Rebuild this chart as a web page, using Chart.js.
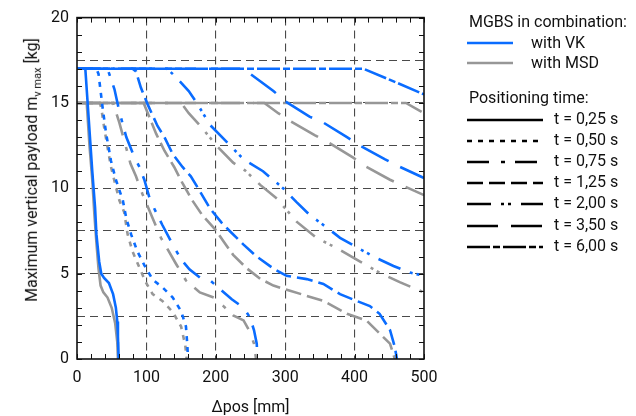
<!DOCTYPE html>
<html>
<head>
<meta charset="utf-8">
<script src="https://cdn.jsdelivr.net/npm/chart.js@4"></script>
<style>
  body { margin: 0; background: #fff; font-family: Roboto, sans-serif; color: #111; }
  #wrap { position: relative; width: 636px; height: 416px; }
  #ytitle { position: absolute; left: 33px; top: 170px; transform: translate(-50%, -50%) rotate(-90deg);
            white-space: nowrap; font-size: 16px; }
  #ytitle sub { font-size: 11px; }
  .lg { position: absolute; font-size: 16px; white-space: nowrap; line-height: 18px; }
  .lg svg { position: absolute; }
</style>
</head>
<body>
<div id="wrap">
  <canvas id="c" width="636" height="416"></canvas>
  <div id="ytitle">Maximum vertical payload m<sub>v max</sub> [kg]</div>
  <div id="legend"></div>
</div>
<script>
// Δpos [mm], payload [kg] pairs
const vk025 = [[0,17],[12,17],[17,14],[22,11],[26,8.9],[28,7.3],[32,5.7],[35,5.0],[39,4.75],[46,4.45],[52,3.8],[56,3.0],[58,2.2],[59,1.3],[60,0]];
const ms025 = [[0,15],[14,15],[18,12.5],[22,10.5],[25,8.5],[28,6.8],[31,5.3],[34,4.3],[38,3.9],[44,3.6],[50,3.0],[55,2.1],[58,1.0],[59,0]];
const vk050 = [[0,17],[28,17],[31,16.7],[37,14.7],[42,13.2],[49,11.6],[56,10.5],[66,9.3],[71,8.25],[78,7.3],[87,6.3],[97,5.5],[109,4.65],[123,4.2],[138,3.6],[150,2.8],[157,1.9],[159,0.8],[160,0]];
const ms050 = [[0,15],[33,15],[35,14.7],[39,13.6],[44,12.4],[49,11.25],[56,10.1],[61,9.3],[68,8.6],[73,7.3],[80,6.3],[90,5.35],[99,4.5],[109,3.8],[123,3.4],[138,2.75],[150,1.9],[156,0.8],[158,0]];
const vk075 = [[0,17],[44,17],[54,15.8],[61,14.5],[71,13.0],[83,11.8],[90,11.25],[97,10.5],[104,9.5],[109,9.0],[123,7.85],[138,6.7],[150,5.84],[162,5.25],[177,4.77],[192,4.6],[206,4.1],[223,3.5],[240,3.0],[249,2.45],[255,1.7],[259,0.9],[260,0]];
const ms075 = [[0,15],[52,15],[61,13.85],[68,12.8],[77,11.45],[85,10.7],[94,9.7],[109,8.25],[121,7.1],[143,5.55],[157,4.6],[163,4.4],[177,3.9],[197,3.6],[211,3.1],[225,2.55],[240,2.26],[249,1.6],[255,0.9],[258,0]];
const vk125 = [[0,17],[80,17],[85,16.85],[92,15.9],[102,14.9],[116,13.65],[126,13.0],[138,12.0],[152,11.25],[164,10.7],[176,9.9],[192,8.8],[208,8.0],[220,7.5],[240,6.7],[259,6.0],[283,5.3],[302,4.87],[331,4.68],[355,4.4],[379,3.8],[403,3.4],[422,3.1],[436,2.65],[451,1.7],[458,0.7],[461,0]];
const ms125 = [[0,15],[96,15],[102,14.4],[114,13.2],[126,12.2],[140,11.25],[152,10.3],[166,9.3],[181,8.4],[199,7.6],[211,6.9],[225,6.1],[245,5.3],[264,4.7],[283,4.3],[307,4.0],[331,3.7],[355,3.4],[389,2.65],[417,2.26],[436,1.5],[451,0.9],[458,0]];
const vk200 = [[0,17],[130,17],[143,16.5],[161,15.7],[171,15.1],[192,13.7],[216,12.7],[240,11.7],[268,11.0],[297,10.0],[316,9.2],[335,8.45],[360,7.7],[379,7.1],[401,6.6],[427,6.0],[456,5.45],[480,5.06],[500,4.87]];
const ms200 = [[0,15],[150,15],[161,14.4],[179,13.6],[201,12.5],[225,11.5],[242,11.05],[264,10.2],[288,9.4],[316,8.06],[345,7.1],[374,6.5],[408,5.7],[436,5.06],[465,4.5],[500,3.9]];
const vk350 = [[0,17],[240,17],[248,16.75],[283,15.7],[300,15.1],[335,14.2],[355,13.85],[389,13.0],[408,12.5],[444,11.7],[463,11.3],[500,10.6]];
const ms350 = [[0,15],[270,15],[290,14.4],[307,13.95],[343,13.1],[362,12.7],[398,11.8],[415,11.3],[451,10.5],[500,9.6]];
const vk600 = [[0,17],[413,17],[460,16.2],[500,15.5]];
const ms600 = [[0,15],[474,15],[500,14.4]];

const times = ['t = 0,25 s', 't = 0,50 s', 't = 0,75 s', 't = 1,25 s', 't = 2,00 s', 't = 3,50 s', 't = 6,00 s'];
const vkCurves = [vk025, vk050, vk075, vk125, vk200, vk350, vk600];
const msCurves = [ms025, ms050, ms075, ms125, ms200, ms350, ms600];
const groups = ['with VK', 'with MSD'];
const xTicks = [0, 100, 200, 300, 400, 500];
const yTicks = [0, 5, 10, 15, 20];

const dashes = [[], [5, 6], [22, 12, 4, 10], [16, 6], [24, 10, 3, 4, 3, 10], [31, 13], [23, 3, 7, 3]];
const BLUE = '#0a6cff';
const GRAY = '#979797';

function ds(points, color, i, label) {
  return {
    label: label,
    data: points.map(p => ({x: p[0], y: p[1]})),
    borderColor: color,
    borderWidth: 2.6,
    borderDash: dashes[i],
    showLine: true,
    pointRadius: 0,
    tension: 0,
    fill: false
  };
}

const datasets = [];
vkCurves.forEach((c, i) => datasets.push(ds(c, BLUE, i, groups[0] + ' ' + times[i])));
msCurves.forEach((c, i) => datasets.push(ds(c, GRAY, i, groups[1] + ' ' + times[i])));

// frame and inward ticks on all four sides
const frameTicks = {
  id: 'frameTicks',
  afterDatasetsDraw(chart) {
    const {ctx, chartArea: a, scales: {x, y}} = chart;
    ctx.save();
    ctx.strokeStyle = '#111';
    ctx.lineWidth = 1;
    ctx.beginPath();
    for (let v = 0; v <= 500; v += 20) {
      const px = Math.round(x.getPixelForValue(v)) + 0.5;
      ctx.moveTo(px, a.bottom); ctx.lineTo(px, a.bottom - 5);
      ctx.moveTo(px, a.top); ctx.lineTo(px, a.top + 5);
    }
    for (let v = 0; v <= 20; v += 1) {
      const py = Math.round(y.getPixelForValue(v)) + 0.5;
      ctx.moveTo(a.left, py); ctx.lineTo(a.left + 5, py);
      ctx.moveTo(a.right, py); ctx.lineTo(a.right - 5, py);
    }
    ctx.stroke();
    ctx.lineWidth = 1.6;
    ctx.strokeRect(a.left, a.top, a.right - a.left, a.bottom - a.top);
    ctx.restore();
  }
};

const gridColor = (ctx) => {
  const v = ctx.tick.value;
  return (v <= ctx.scale.min || v >= ctx.scale.max) ? 'rgba(0,0,0,0)' : '#4a4a4a';
};

new Chart(document.getElementById('c').getContext('2d'), {
  type: 'scatter',
  data: {datasets: datasets},
  options: {
    responsive: false,
    animation: false,
    devicePixelRatio: 1,
    layout: {padding: {top: 14, right: 212, left: 0, bottom: 0}},
    plugins: {legend: {display: false}, tooltip: {enabled: false}},
    scales: {
      x: {
        type: 'linear', min: 0, max: 500,
        afterFit: s => { s.height = 57; },
        afterBuildTicks: s => { s.ticks = xTicks.map(v => ({value: v})); },
        ticks: {color: '#111', font: {family: 'Roboto', size: 16}, padding: 9, maxRotation: 0},
        grid: {color: gridColor, lineWidth: 1.1, drawTicks: false},
        border: {display: false, dash: [8, 5]},
        title: {display: true, text: 'Δpos [mm]', color: '#111', font: {family: 'Roboto', size: 16}, padding: {top: 4, bottom: -2}}
      },
      y: {
        type: 'linear', min: 0, max: 20,
        afterFit: s => { s.width = 77; },
        ticks: {stepSize: 2.5, autoSkip: false, color: '#111', font: {family: 'Roboto', size: 16}, padding: 8,
                callback: v => yTicks.includes(v) ? v : ''},
        grid: {color: gridColor, lineWidth: 1.1, drawTicks: false},
        border: {display: false, dash: [8, 5]}
      }
    }
  },
  plugins: [frameTicks]
});

// legend
const lg = document.getElementById('legend');
function add(html, left, top) {
  const d = document.createElement('div');
  d.className = 'lg';
  d.style.left = left + 'px';
  d.style.top = top + 'px';
  d.innerHTML = html;
  lg.appendChild(d);
}
function lineSvg(left, top, w, color, dash) {
  const d = document.createElement('div');
  d.className = 'lg';
  d.style.left = left + 'px';
  d.style.top = (top - 3) + 'px';
  d.innerHTML = '<svg width="' + w + '" height="6"><line x1="0" y1="3" x2="' + w + '" y2="3" stroke="' + color +
    '" stroke-width="2.6" stroke-dasharray="' + (dash.length ? dash.join(' ') : 'none') + '"/></svg>';
  lg.appendChild(d);
}
add('MGBS in combination:', 469, 13);
lineSvg(467, 43, 46, BLUE, []);
add(groups[0], 531, 34);
lineSvg(467, 63, 46, GRAY, []);
add(groups[1], 531, 54);
add('Positioning time:', 469, 89);
const rowY = [120, 141, 162, 183, 204, 226, 247];
times.forEach((t, i) => {
  lineSvg(467, rowY[i], 76, '#000', dashes[i]);
  add(t, 554, rowY[i] - 10);
});
</script>
</body>
</html>
